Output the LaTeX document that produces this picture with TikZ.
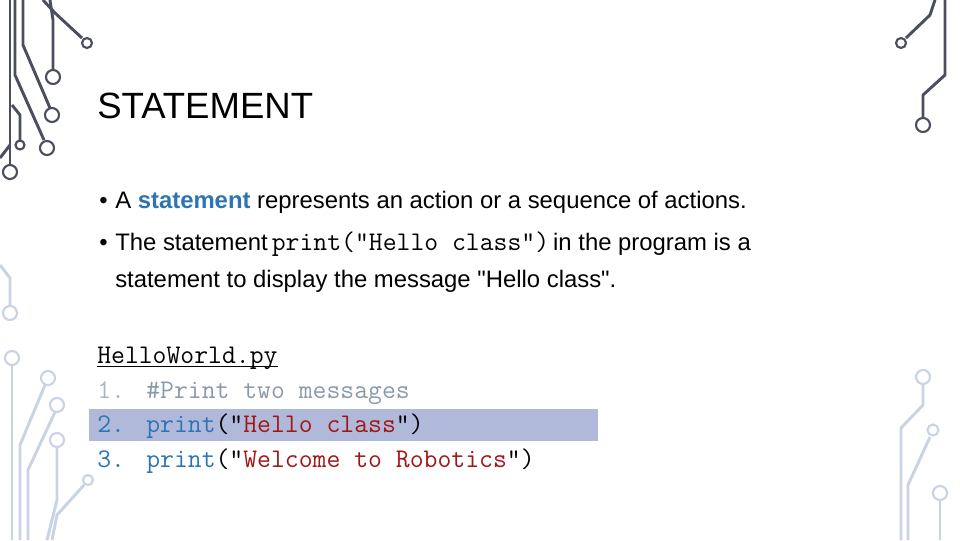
\documentclass[tikz,border=0pt]{standalone}
\usepackage{fontspec}
\setmainfont{Liberation Sans}[Ligatures=TeXOff]
\setmonofont{Latin Modern Mono}
\definecolor{dk}{HTML}{4A4E5E}
\definecolor{lt}{HTML}{C9D3E3}
\definecolor{hl}{HTML}{B0B9D9}
\definecolor{kw}{HTML}{2E74B5}
\definecolor{st}{HTML}{A31515}
\definecolor{cm}{HTML}{8A9AA8}
\definecolor{num}{HTML}{A9B4C4}
\newcommand\dq{\char34\relax}
\begin{document}
\begin{tikzpicture}[x=0.75pt,y=-0.75pt,
  trace/.style={line width=2.2pt,line join=round},
  pad/.style={line width=1.6pt,fill=white},
  txt/.style={anchor=base west,inner sep=0pt,font=\fontsize{17.9}{20}\selectfont},
  code/.style={anchor=base west,inner sep=0pt,font=\fontsize{20.2}{22}\ttfamily}]
\useasboundingbox (0,0) rectangle (960,540);
\begin{scope}[draw=dk]
\draw[trace] (43,0)--(55,13)--(82,38); \draw[pad] (87,43) circle (5);
\draw[trace] (50,0)--(53,20)--(53,70); \draw[pad] (53,77) circle (7);
\draw[trace] (23,0)--(23,45)--(50,108); \draw[pad] (52,115) circle (7);
\draw[trace] (15,0)--(15,75)--(44,140); \draw[pad] (47,148) circle (7);
\draw[trace] (12,105)--(20,115)--(20,140); \draw[pad] (20,145) circle (4.5);
\draw[trace] (0,158)--(10,145);
\draw[trace] (10,0)--(10,165); \draw[pad] (10,172) circle (7);
\draw[trace] (935,0)--(930,15)--(906,38); \draw[pad] (901,43) circle (5);
\draw[trace] (945,0)--(945,75)--(923,95)--(923,118); \draw[pad] (923,125) circle (7);
\end{scope}
\begin{scope}[draw=lt]
\draw[trace] (0,265)--(10,278)--(10,306); \draw[pad] (10,313) circle (7);
\draw[trace] (12,365)--(12,540); \draw[pad] (12,358) circle (7);
\draw[trace] (45,385)--(20,445)--(20,540); \draw[pad] (48,378) circle (7);
\draw[trace] (55,412)--(28,470)--(28,540); \draw[pad] (57,405) circle (7);
\draw[trace] (57,447)--(57,500)--(47,540); \draw[pad] (57,440) circle (7);
\draw[trace] (84,485)--(57,515)--(52,540); \draw[pad] (88,480) circle (5);
\draw[trace] (923,384)--(923,405)--(901,428)--(901,540); \draw[pad] (923,377) circle (7);
\draw[trace] (930,437)--(908,485)--(908,540); \draw[pad] (933,430) circle (5.5);
\draw[trace] (940,500)--(940,540); \draw[pad] (940,493) circle (7);
\end{scope}
\node[anchor=base west,inner sep=0pt,font=\fontsize{27.4}{30}\selectfont] (title) at (97,118) {STATEMENT};
\node[txt] (b1) at (99,208) {\textbullet};
\node[txt] (t1) at (115,208) {A \textcolor{kw}{\bfseries statement} represents an action or a sequence of actions.};
\node[txt] (b2) at (99,250) {\textbullet};
\node[txt] (t2) at (115,250) {The statement\,\texttt{\fontsize{20.2}{22}\selectfont print(\dq Hello class\dq)}\,in the program is a};
\node[txt] (t3) at (115,287) {statement to display the message \dq Hello class\dq.};
\fill[hl] (89,409) rectangle (598,441);
\node[code] (f) at (97,363) {HelloWorld.py};
\draw[line width=1pt] ([yshift=-2.5pt]f.base west) -- ([yshift=-2.5pt]f.base east);
\node[code,text=num] (n1) at (97,398) {1.};
\node[code] (c1) at (146,398) {\textcolor{cm}{\#Print two messages}};
\node[code,text=kw] (n2) at (97,432) {2.};
\node[code] (c2) at (146,432) {\textcolor{kw}{print}(\dq\textcolor{st}{Hello class}\dq)};
\node[code,text=kw] (n3) at (97,467) {3.};
\node[code] (c3) at (146,467) {\textcolor{kw}{print}(\dq\textcolor{st}{Welcome to Robotics}\dq)};
\end{tikzpicture}
\end{document}
